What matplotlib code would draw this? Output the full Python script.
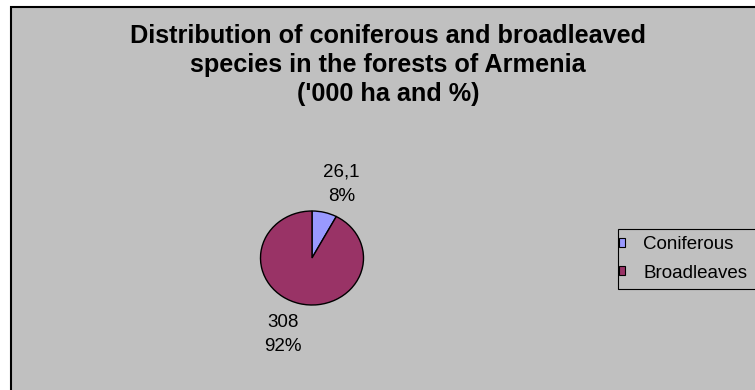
import matplotlib.pyplot as plt
from matplotlib.patches import Rectangle

plt.rcParams['font.family'] = ['Liberation Sans', 'DejaVu Sans']

# forest area by species group, thousand ha
species = ['Coniferous', 'Broadleaves']
area = [26.1, 308]
colors = ['#9999FF', '#993366']
title_lines = ['Distribution of coniferous and broadleaved',
               'species in the forests of Armenia',
               "('000 ha and %)"]

W, H = 755, 390
fig = plt.figure(figsize=(W / 100, H / 100), dpi=100, facecolor='white')

# full-figure layer in pixel units for background, title and labels
bg = fig.add_axes([0, 0, 1, 1])
bg.set_xlim(0, W)
bg.set_ylim(H, 0)
bg.axis('off')
bg.add_patch(Rectangle((10.5, 6.5), W, H, facecolor='#C0C0C0',
                       edgecolor='black', lw=1.5, clip_on=False))

for line, yb in zip(title_lines, [43.3, 71.9, 100.7]):
    bg.text(388, yb, line, ha='center', va='baseline',
            fontsize=18.2, fontweight='bold', color='black')

# pie, slightly wider than tall
cx, cy, rx, ry = 312, 258, 51.5, 47
ax = fig.add_axes([(cx - rx) / W, (H - cy - ry) / H, 2 * rx / W, 2 * ry / H])
wedges, _ = ax.pie(area, colors=colors, startangle=90, counterclock=False,
                   wedgeprops=dict(edgecolor='black', linewidth=1))
ax.set_aspect('auto')
ax.set_xlim(-1, 1)
ax.set_ylim(-1, 1)
ax.axis('off')

total = sum(area)
label_pos = [(341.7, 176.7), (283, 326.7)]
for val, (lx, ly) in zip(area, label_pos):
    txt = ('%g' % val).replace('.', ',')
    pct = '%d%%' % round(val / total * 100)
    bg.text(lx, ly, txt, ha='center', va='baseline', fontsize=13.5)
    bg.text(lx, ly + 24.3, pct, ha='center', va='baseline', fontsize=13.5)

# legend box, open on the right where it runs off the figure
bg.add_patch(Rectangle((617.5, 228.5), 160, 60.5, facecolor='#C0C0C0',
                       edgecolor='black', lw=0.8, clip_on=False))
leg = fig.legend(wedges, species, loc='upper left',
                 bbox_to_anchor=(618.5 / W, 1 - 236 / H), borderaxespad=0,
                 fontsize=13.5, frameon=False, borderpad=0,
                 labelspacing=0.62, handlelength=0.37,
                 handleheight=0.37, handletextpad=0.95)
for h in leg.legend_handles:
    h.set_edgecolor('black')
    h.set_linewidth(0.8)

fig.savefig('out.png', dpi=100, facecolor='white')
